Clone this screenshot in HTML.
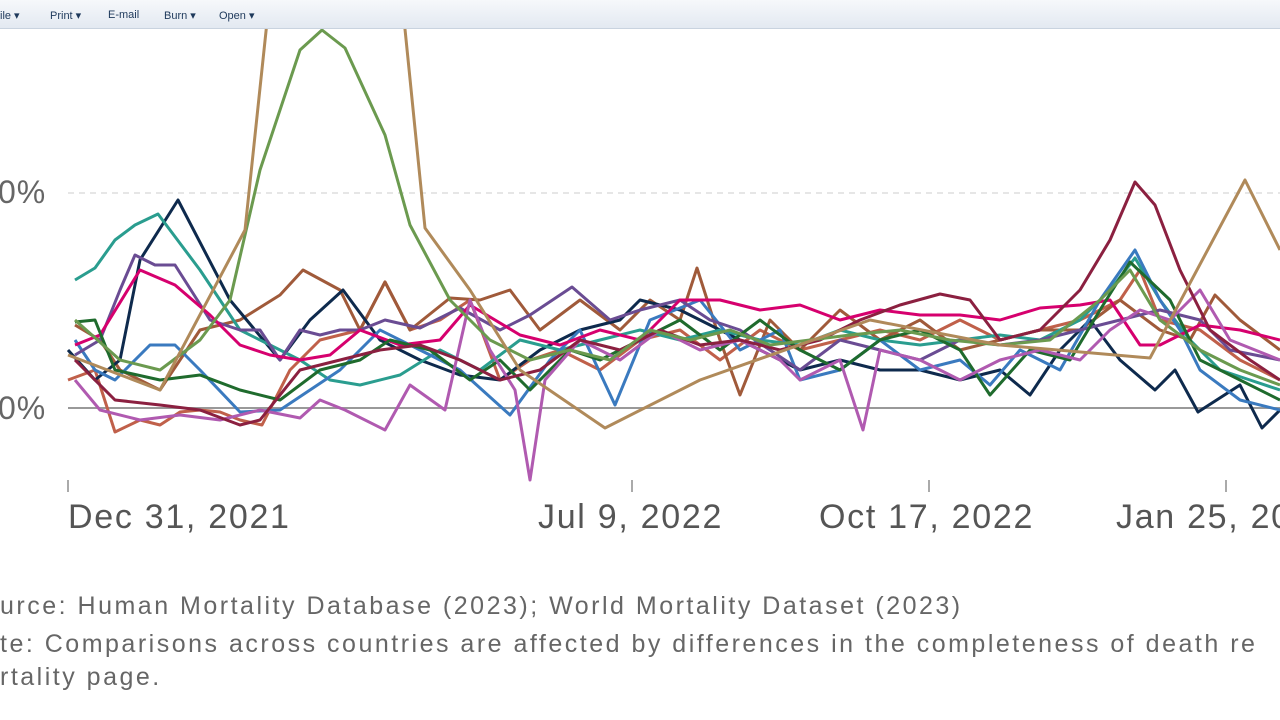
<!DOCTYPE html>
<html><head><meta charset="utf-8"><style>
body{margin:0;width:1280px;height:720px;overflow:hidden;background:#fff;font-family:"Liberation Sans",sans-serif;}
.tb{position:absolute;z-index:2;left:0;top:0;width:1280px;height:28px;background:linear-gradient(#f6f8fb,#e3e9f1);border-bottom:1px solid #c9d3df;font-size:11px;color:#1e395b;}
.tb span{position:absolute;top:9px;}
.ax{position:absolute;font-size:32px;color:#666;letter-spacing:1px;}
.dt{position:absolute;top:498px;font-size:34px;color:#555;letter-spacing:1.7px;white-space:nowrap;}
.src{position:absolute;left:0;font-size:25px;color:#666;white-space:nowrap;letter-spacing:2.5px;}
</style></head><body>
<div class="tb"><span style="left:0">ile ▾</span><span style="left:50px">Print ▾</span><span style="left:108px">E-mail</span><span style="left:164px">Burn ▾</span><span style="left:219px">Open ▾</span></div>
<svg width="1280" height="720" style="position:absolute;left:0;top:0">
<line x1="68" y1="193" x2="1280" y2="193" stroke="#ddd" stroke-width="1.5" stroke-dasharray="6,5"/>
<line x1="68" y1="408" x2="1280" y2="408" stroke="#999" stroke-width="2"/>
<g stroke="#aaa" stroke-width="2"><line x1="68" y1="480" x2="68" y2="492"/><line x1="632" y1="480" x2="632" y2="492"/><line x1="929" y1="480" x2="929" y2="492"/><line x1="1226" y1="480" x2="1226" y2="492"/></g>
<g fill="none" stroke-width="3" stroke-linejoin="round">
<polyline stroke="#c0604a" points="68,380 95,370 115,432 140,420 160,425 180,412 200,410 220,412 240,420 262,425 290,370 320,340 360,330 385,282 410,330 440,320 470,300 500,380 530,360 560,350 600,370 640,340 680,330 720,360 760,330 800,350 840,340 880,330 920,340 960,320 1000,340 1040,330 1080,320 1120,300 1140,270 1160,320 1200,330 1240,360 1280,380"/>
<polyline stroke="#a05a3a" points="75,325 100,340 120,370 160,390 200,330 240,320 280,295 303,270 340,290 360,330 385,282 410,330 450,298 480,300 510,290 540,330 580,300 620,330 650,300 680,320 697,268 720,340 740,395 770,320 800,350 840,310 880,340 920,320 960,350 1000,340 1040,330 1080,330 1120,300 1160,330 1190,340 1215,295 1240,320 1280,350"/>
<polyline stroke="#0e2a4d" points="68,350 95,380 120,360 140,260 178,200 230,300 280,360 310,320 343,290 380,340 420,360 460,375 500,380 540,350 580,330 620,320 640,300 680,310 720,330 760,350 800,370 840,360 880,370 920,370 960,380 1000,370 1030,395 1060,350 1090,320 1120,360 1155,390 1175,370 1198,412 1240,385 1262,428 1280,410"/>
<polyline stroke="#2a9d8f" points="75,280 95,268 115,240 135,225 158,214 200,270 240,330 270,345 300,360 330,380 360,385 400,375 440,350 480,370 520,340 560,350 600,340 640,330 680,340 720,330 760,340 800,345 840,330 880,340 920,345 960,340 1000,335 1040,340 1080,320 1110,290 1135,258 1160,300 1190,340 1220,370 1250,380 1280,390"/>
<polyline stroke="#3a7abf" points="75,340 95,370 115,380 150,345 175,345 200,370 240,412 280,410 310,390 340,370 380,330 420,350 460,370 510,415 550,360 580,330 615,405 650,320 700,300 740,350 780,330 800,380 840,370 880,340 920,370 960,360 990,385 1020,350 1060,370 1100,300 1135,250 1160,300 1180,330 1200,370 1240,400 1280,410"/>
<polyline stroke="#6a4c93" points="75,355 100,340 120,290 135,255 155,265 175,265 210,320 240,330 260,330 280,360 300,330 320,335 340,330 360,330 385,320 420,328 460,308 500,330 530,315 572,287 610,320 640,310 680,300 710,320 740,330 770,350 800,370 840,340 880,350 920,360 960,340 1000,345 1040,340 1080,330 1120,320 1160,310 1200,320 1230,350 1280,360"/>
<polyline stroke="#d6006e" points="75,345 100,335 140,270 175,285 210,315 240,345 270,355 300,360 330,355 360,330 400,345 440,340 470,305 520,335 560,345 600,330 640,340 680,300 720,300 760,310 800,305 840,320 880,310 920,315 960,315 1000,320 1040,308 1080,305 1110,300 1140,345 1160,345 1200,325 1240,330 1280,340"/>
<polyline stroke="#1f6b2d" points="75,322 95,320 115,370 160,380 200,375 240,390 280,400 320,370 360,360 390,340 430,350 470,380 500,360 530,390 570,350 600,360 640,340 680,320 720,350 760,320 800,350 840,370 880,340 920,330 960,350 990,395 1030,350 1070,360 1100,310 1130,262 1170,300 1200,360 1240,380 1280,400"/>
<polyline stroke="#b05ab0" points="75,380 100,410 140,420 180,415 220,420 260,410 300,418 320,400 345,410 385,430 410,385 445,410 470,300 490,350 515,390 530,480 545,380 580,340 620,360 660,330 700,350 740,340 780,360 800,380 840,360 863,430 880,350 920,360 960,380 1000,360 1040,350 1080,360 1110,330 1140,310 1170,320 1200,290 1230,340 1280,360"/>
<polyline stroke="#8b2040" points="75,360 115,400 160,405 200,410 240,425 260,420 300,370 340,360 380,350 420,345 460,360 500,380 540,370 580,340 620,350 660,330 700,345 740,340 780,350 820,340 860,320 900,305 940,294 970,300 1000,340 1040,330 1080,290 1110,240 1135,182 1155,205 1180,270 1210,330 1250,360 1280,380"/>
<polyline stroke="#6b9a4f" points="75,320 120,360 160,370 200,340 230,300 260,170 300,50 322,30 345,48 385,135 410,225 450,300 490,340 530,360 570,350 610,360 650,330 690,340 730,330 770,345 810,340 850,335 900,330 950,340 1000,345 1050,340 1100,300 1130,270 1160,320 1200,350 1240,370 1280,385"/>
<polyline stroke="#b08a5a" points="68,355 160,390 245,230 282,-120 390,-120 425,228 470,290 520,370 605,428 700,380 870,320 1000,345 1150,358 1245,180 1280,250"/>
</g>
</svg>
<div class="ax" style="left:-2px;top:174px">0%</div>
<div class="ax" style="left:-2px;top:390px">0%</div>
<div class="dt" style="left:68px">Dec 31, 2021</div>
<div class="dt" style="left:538px">Jul 9, 2022</div>
<div class="dt" style="left:819px">Oct 17, 2022</div>
<div class="dt" style="left:1116px">Jan 25, 20</div>
<div class="src" style="top:592px">urce: Human Mortality Database (2023); World Mortality Dataset (2023)</div>
<div class="src" style="top:630px">te: Comparisons across countries are affected by differences in the completeness of death re</div>
<div class="src" style="top:663px">rtality page.</div>
</body></html>
